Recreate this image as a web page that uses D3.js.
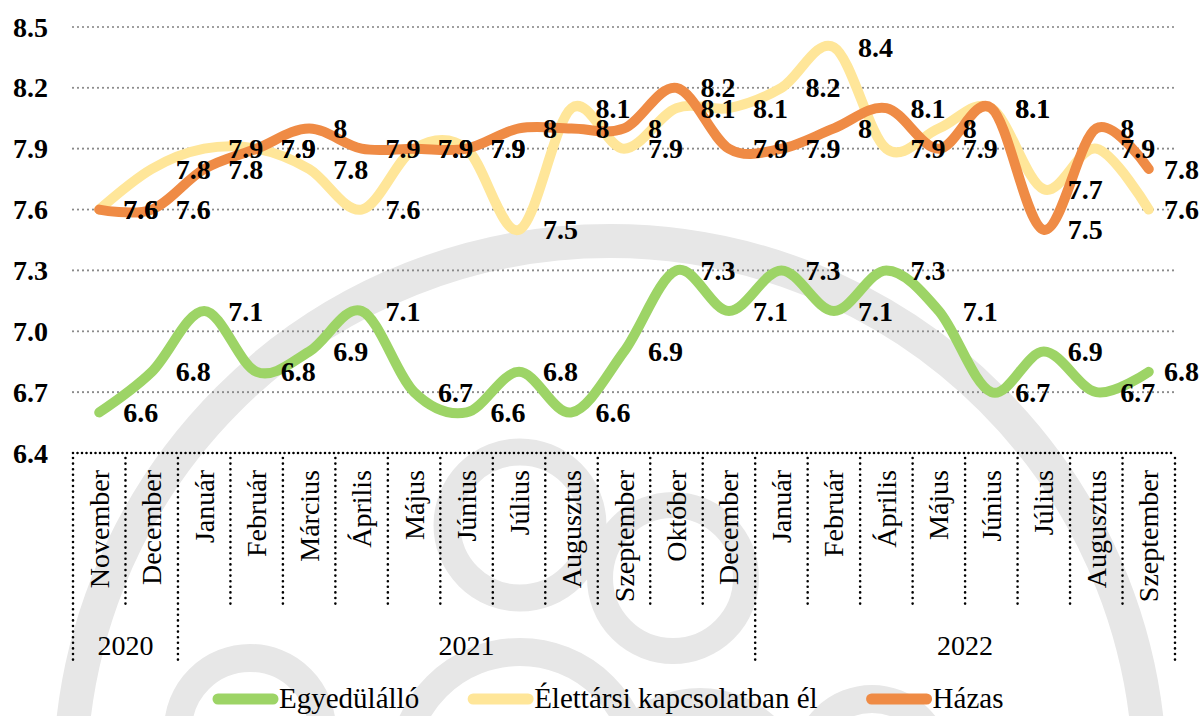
<!DOCTYPE html>
<html>
<head>
<meta charset="utf-8">
<script src="https://cdn.jsdelivr.net/npm/d3@7"></script>
<style>
  body { margin: 0; background: #fff; }
  svg text { font-family: "Liberation Serif" !important; }
</style>
</head>
<body>
<svg id="chart" width="1200" height="716"></svg>
<script>
const months = ["November", "December", "Január", "Február", "Március", "Április", "Május",
  "Június", "Július", "Augusztus", "Szeptember", "Október", "December", "Január", "Február",
  "Április", "Május", "Június", "Július", "Augusztus", "Szeptember"];
const years = ["2020", "2021", "2022"];
const yearCounts = [2, 11, 8];

const single = [6.6, 6.8, 7.1, 6.8, 6.9, 7.1, 6.7, 6.6, 6.8, 6.6, 6.9, 7.3, 7.1, 7.3, 7.1, 7.3, 7.1, 6.7, 6.9, 6.7, 6.8];
const partner = [7.6, 7.8, 7.9, 7.9, 7.8, 7.6, 7.9, 7.9, 7.5, 8.1, 7.9, 8.1, 8.1, 8.2, 8.4, 7.9, 8.0, 8.1, 7.7, 7.9, 7.6];
const married = [7.6, 7.6, 7.8, 7.9, 8.0, 7.9, 7.9, 7.9, 8.0, 8.0, 8.0, 8.2, 7.9, 7.9, 8.0, 8.1, 7.9, 8.1, 7.5, 8.0, 7.8];

const seriesNames = ["Egyedülálló", "Élettársi kapcsolatban él", "Házas"];
const seriesColors = ["#9dd466", "#ffe699", "#ef8b45"];
const yTicks = [6.4, 6.7, 7.0, 7.3, 7.6, 7.9, 8.2, 8.5];

const width = 1200;
const height = 716;
const margin = {top: 27, right: 25, bottom: 263, left: 73};
const fontSize = 28;

let svg = d3.select("#chart");

// watermark logo in the background
const wm = svg.append("g").attr("fill", "none").attr("stroke", "#e7e7e7");
wm.append("circle").attr("cx", 610).attr("cy", 781).attr("r", 540).attr("stroke-width", 34);
wm.append("circle").attr("cx", 520).attr("cy", 525).attr("r", 73).attr("stroke-width", 27);
wm.append("circle").attr("cx", 673).attr("cy", 578).attr("r", 73).attr("stroke-width", 26);
wm.append("circle").attr("cx", 250).attr("cy", 730).attr("r", 72).attr("stroke-width", 28);
wm.append("circle").attr("cx", 520).attr("cy", 770).attr("r", 118).attr("stroke-width", 28);
wm.append("circle").attr("cx", 700).attr("cy", 800).attr("r", 98).attr("stroke-width", 28);
wm.append("circle").attr("cx", 872).attr("cy", 765).attr("r", 66).attr("stroke-width", 28);

let x = d3.scaleBand()
  .domain(months.map((d, i) => i))
  .range([margin.left, width - margin.right]);
let y = d3.scaleLinear()
  .domain([6.4, 8.5])
  .range([height - margin.bottom, margin.top]);
const cx = (i) => x(i) + x.bandwidth() / 2;
const x0 = margin.left, x1 = width - margin.right, yBase = y(6.4);

// gridlines
svg.selectAll("line.grid")
  .data(yTicks.slice(1))
  .enter().append("line")
  .attr("class", "grid")
  .attr("x1", x0).attr("x2", x1)
  .attr("y1", (d) => y(d)).attr("y2", (d) => y(d))
  .attr("stroke", "#8a8a8a")
  .attr("stroke-width", 2.2)
  .attr("stroke-linecap", "round")
  .attr("stroke-dasharray", "0,5");

svg.selectAll("text.ytick")
  .data(yTicks)
  .enter().append("text")
  .attr("class", "ytick")
  .attr("x", 48)
  .attr("y", (d) => y(d))
  .attr("dy", "0.34em")
  .attr("text-anchor", "end")
  .attr("font-weight", "bold")
  .attr("font-size", fontSize)
  .text(d3.format(".1f"));

// category axis: dotted base line and separators
svg.append("line")
  .attr("x1", x0).attr("x2", x1)
  .attr("y1", yBase).attr("y2", yBase)
  .attr("stroke", "#000")
  .attr("stroke-width", 2.6)
  .attr("stroke-linecap", "round")
  .attr("stroke-dasharray", "0,4.5");

const groupEdges = [0];
yearCounts.forEach((c, i) => groupEdges.push(groupEdges[i] + c));
const edges = d3.range(months.length + 1);

svg.selectAll("line.sep")
  .data(edges)
  .enter().append("line")
  .attr("class", "sep")
  .attr("x1", (k) => x0 + k * x.step()).attr("x2", (k) => x0 + k * x.step())
  .attr("y1", yBase + 5)
  .attr("y2", (k) => groupEdges.includes(k) ? 660 : 605)
  .attr("stroke", "#000")
  .attr("stroke-width", 2.6)
  .attr("stroke-linecap", "round")
  .attr("stroke-dasharray", "0,5.6");

svg.selectAll("text.month")
  .data(months)
  .enter().append("text")
  .attr("class", "month")
  .attr("transform", (d, i) => "translate(" + cx(i) + "," + (yBase + 17) + ") rotate(-90)")
  .attr("dy", "0.34em")
  .attr("text-anchor", "end")
  .attr("font-size", fontSize)
  .text((d) => d);

svg.selectAll("text.year")
  .data(years)
  .enter().append("text")
  .attr("class", "year")
  .attr("x", (d, i) => x0 + (groupEdges[i] + groupEdges[i + 1]) / 2 * x.step())
  .attr("y", 645)
  .attr("dy", "0.34em")
  .attr("text-anchor", "middle")
  .attr("font-size", fontSize)
  .text((d) => d);

// smoothed lines
const allSeries = [single, partner, married];
let line = d3.line()
  .x((d, i) => cx(i))
  .y((d) => y(d))
  .curve(d3.curveCardinal.tension(0));

svg.selectAll("path.series")
  .data(allSeries)
  .enter().append("path")
  .attr("class", "series")
  .attr("d", line)
  .attr("fill", "none")
  .attr("stroke", (d, i) => seriesColors[i])
  .attr("stroke-width", 10)
  .attr("stroke-linecap", "round")
  .attr("stroke-linejoin", "round");

// value labels to the right of each point
allSeries.forEach(function(values, s) {
  svg.selectAll("text.val-" + s)
    .data(values)
    .enter().append("text")
    .attr("class", "val-" + s)
    .attr("x", (d, i) => cx(i) + 24)
    .attr("y", (d) => y(d))
    .attr("dy", "0.34em")
    .attr("font-weight", "bold")
    .attr("font-size", fontSize)
    .text((d) => String(d));
});

// keep the last labels inside the picture
svg.selectAll("text[class^='val-']").each(function() {
  const w = this.getComputedTextLength();
  const xx = +this.getAttribute("x");
  if (xx + w > width - 1) this.setAttribute("x", width - 1 - w);
});

// legend
let lx = 213;
const ly = 699;
seriesNames.forEach(function(name, i) {
  svg.append("line")
    .attr("x1", lx + 5).attr("x2", lx + 60)
    .attr("y1", ly).attr("y2", ly)
    .attr("stroke", seriesColors[i])
    .attr("stroke-width", 11)
    .attr("stroke-linecap", "round");
  let t = svg.append("text")
    .attr("x", lx + 66)
    .attr("y", ly)
    .attr("dy", "0.32em")
    .attr("font-size", 29)
    .text(name);
  lx += 66 + t.node().getComputedTextLength() + 49;
});
</script>
</body>
</html>
